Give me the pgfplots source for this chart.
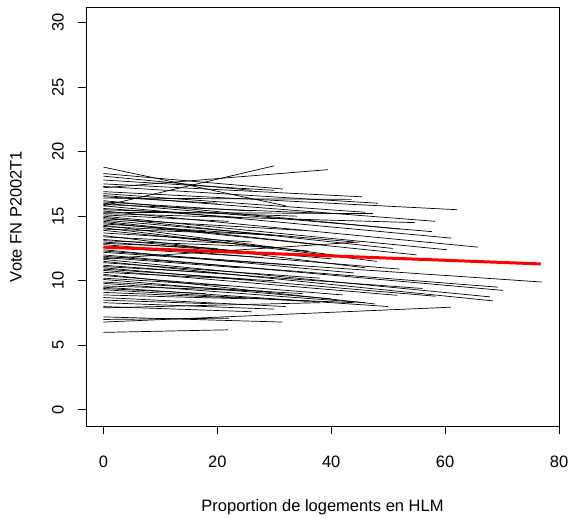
\documentclass[border=0pt]{standalone}
\usepackage{pgfplots}
\pgfplotsset{compat=1.18}
\usepackage{fontspec}
\setmainfont{Liberation Sans}
\pgfplotsset{seg/.style={black, line width=0.7bp, no marks}}
\begin{document}
\begin{tikzpicture}[x=1bp,y=1bp]
\useasboundingbox (0,0) rectangle (570,519);
\begin{axis}[
  at={(86bp,93bp)}, anchor=south west,
  scale only axis, width=473bp, height=419bp,
  xmin=-3.07, xmax=80, ymin=-1.25, ymax=31.2,
  xtick={0,20,40,60,80}, ytick={0,5,10,15,20,25,30},
  xtick pos=left, ytick pos=left,
  tick align=outside, major tick length=8.5bp,
  every tick/.style={black, line width=0.75bp},
  axis line style={black, line width=0.8bp},
  /pgf/number format/assume math mode=true,
  every tick label/.append style={font=\fontsize{16.5bp}{20bp}\selectfont, inner sep=0pt},
  xticklabel style={anchor=north},
  yticklabel style={rotate=90, anchor=south},
  xticklabel shift=21.5bp,
  yticklabel shift=13.5bp,
  xlabel={Proportion de logements en HLM},
  ylabel={Vote FN P2002T1},
  label style={font=\fontsize{16.5bp}{20bp}\selectfont, inner sep=0pt},
  xlabel style={at={(axis description cs:0.5,-0.1945)}, anchor=center},
  ylabel style={at={(axis description cs:-0.148,0.5)}, anchor=center},
  clip=false,
]
\addplot[seg] coordinates {(0,18.8) (32,15.8)};
\addplot[seg] coordinates {(0,15.8) (30,18.9)};
\addplot[seg] coordinates {(0,17.2) (39.4,18.6)};
\addplot[seg] coordinates {(0,18.3) (31.5,17.1)};
\addplot[seg] coordinates {(0,18.1) (26,17.0)};
\addplot[seg] coordinates {(0,17.8) (30,17.0)};
\addplot[seg] coordinates {(0,17.5) (45.4,16.5)};
\addplot[seg] coordinates {(0,17.3) (48.2,16.0)};
\addplot[seg] coordinates {(0,16.9) (62.1,15.5)};
\addplot[seg] coordinates {(0,16.75) (46,15.3)};
\addplot[seg] coordinates {(0,16.6) (58.3,14.6)};
\addplot[seg] coordinates {(0,16.5) (20,16.0)};
\addplot[seg] coordinates {(0,16.4) (43.6,16.3)};
\addplot[seg] coordinates {(0,16.2) (52,14.0)};
\addplot[seg] coordinates {(0,16.1) (26,15.4)};
\addplot[seg] coordinates {(0,16.0) (57.7,13.8)};
\addplot[seg] coordinates {(0,15.9) (40,15.2)};
\addplot[seg] coordinates {(0,15.8) (61.1,13.3)};
\addplot[seg] coordinates {(0,15.6) (24,14.9)};
\addplot[seg] coordinates {(0,15.5) (34,15.0)};
\addplot[seg] coordinates {(0,15.4) (65.8,12.6)};
\addplot[seg] coordinates {(0,15.3) (47.3,15.2)};
\addplot[seg] coordinates {(0,15.2) (54.7,14.5)};
\addplot[seg] coordinates {(0,15.1) (22,14.6)};
\addplot[seg] coordinates {(0,15.0) (60.3,12.4)};
\addplot[seg] coordinates {(0,14.9) (50.8,12.5)};
\addplot[seg] coordinates {(0,14.8) (35,13.9)};
\addplot[seg] coordinates {(0,14.7) (44,13.0)};
\addplot[seg] coordinates {(0,14.6) (38,12.8)};
\addplot[seg] coordinates {(0,14.5) (55,12.0)};
\addplot[seg] coordinates {(0,14.4) (30,13.5)};
\addplot[seg] coordinates {(0,14.3) (42,11.9)};
\addplot[seg] coordinates {(0,14.2) (18,13.8)};
\addplot[seg] coordinates {(0,14.1) (48,11.5)};
\addplot[seg] coordinates {(0,14.0) (28,13.6)};
\addplot[seg] coordinates {(0,13.9) (36,12.3)};
\addplot[seg] coordinates {(0,13.7) (26,13.0)};
\addplot[seg] coordinates {(0,13.5) (46,11.0)};
\addplot[seg] coordinates {(0,13.4) (22,12.9)};
\addplot[seg] coordinates {(0,13.2) (40,11.7)};
\addplot[seg] coordinates {(0,13.1) (30,12.6)};
\addplot[seg] coordinates {(0,13.0) (33,12.0)};
\addplot[seg] coordinates {(0,12.9) (20,12.5)};
\addplot[seg] coordinates {(0,12.8) (52,10.9)};
\addplot[seg] coordinates {(0,12.6) (28,11.8)};
\addplot[seg] coordinates {(0,12.4) (44,10.6)};
\addplot[seg] coordinates {(0,12.3) (34,11.2)};
\addplot[seg] coordinates {(0,12.2) (77,9.9)};
\addplot[seg] coordinates {(0,12.0) (70.2,9.25)};
\addplot[seg] coordinates {(0,11.9) (69.3,9.5)};
\addplot[seg] coordinates {(0,11.8) (24,11.0)};
\addplot[seg] coordinates {(0,11.7) (45,13.0)};
\addplot[seg] coordinates {(0,11.65) (67.9,8.75)};
\addplot[seg] coordinates {(0,11.5) (68.4,8.44)};
\addplot[seg] coordinates {(0,11.4) (38,10.2)};
\addplot[seg] coordinates {(0,11.2) (56,9.4)};
\addplot[seg] coordinates {(0,11.1) (20,10.6)};
\addplot[seg] coordinates {(0,11.0) (58.3,8.8)};
\addplot[seg] coordinates {(0,10.9) (26,10.1)};
\addplot[seg] coordinates {(0,10.8) (51.6,8.87)};
\addplot[seg] coordinates {(0,10.65) (30,10.0)};
\addplot[seg] coordinates {(0,10.5) (47.7,8.2)};
\addplot[seg] coordinates {(0,10.4) (42,8.9)};
\addplot[seg] coordinates {(0,10.2) (22,9.6)};
\addplot[seg] coordinates {(0,10.1) (40,8.6)};
\addplot[seg] coordinates {(0,9.9) (35,9.0)};
\addplot[seg] coordinates {(0,9.8) (46,8.3)};
\addplot[seg] coordinates {(0,9.6) (28,9.2)};
\addplot[seg] coordinates {(0,9.5) (50,8.0)};
\addplot[seg] coordinates {(0,9.4) (18,9.0)};
\addplot[seg] coordinates {(0,9.3) (36,8.4)};
\addplot[seg] coordinates {(0,9.1) (44,8.3)};
\addplot[seg] coordinates {(0,8.9) (25,8.6)};
\addplot[seg] coordinates {(0,8.7) (32,8.0)};
\addplot[seg] coordinates {(0,8.5) (20,8.2)};
\addplot[seg] coordinates {(0,8.3) (30,7.8)};
\addplot[seg] coordinates {(0,8.0) (26,7.6)};
\addplot[seg] coordinates {(0,7.9) (38,8.3)};
\addplot[seg] coordinates {(0,7.2) (31.4,6.8)};
\addplot[seg] coordinates {(0,7.0) (22,7.1)};
\addplot[seg] coordinates {(0,6.8) (61,7.95)};
\addplot[seg] coordinates {(0,6.0) (21.9,6.2)};
\addplot[red, line width=3bp, no marks] coordinates {(0,12.6) (76.8,11.3)};
\end{axis}
\end{tikzpicture}
\end{document}
